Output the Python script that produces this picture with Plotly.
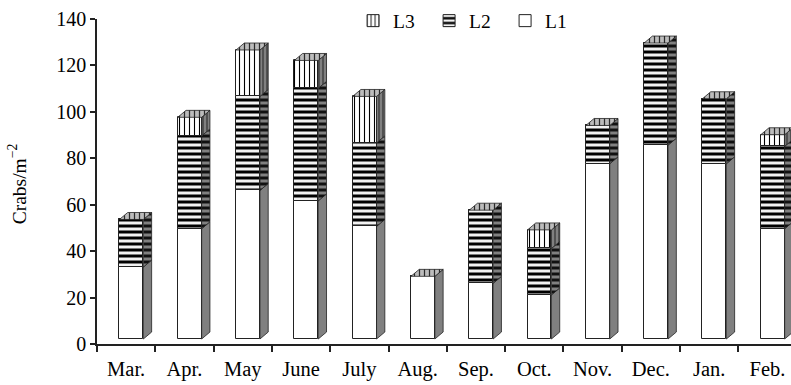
import plotly.graph_objects as go

# Monthly crab density (crabs per square metre) by size class, stacked
months = ["Mar.", "Apr.", "May", "June", "July", "Aug.",
          "Sep.", "Oct.", "Nov.", "Dec.", "Jan.", "Feb."]
L1 = [31.0, 47.5, 64.0, 59.5, 48.5, 27.0, 24.0, 19.0, 75.5, 83.5, 75.5, 47.5]
L2 = [20.5, 40.0, 40.5, 48.5, 36.0, 0.0, 31.5, 20.0, 16.5, 44.0, 28.0, 35.5]
L3 = [0.0, 8.0, 20.0, 12.0, 20.0, 0.0, 0.0, 8.0, 0.0, 0.0, 0.0, 5.0]
y_ticks = [0, 20, 40, 60, 80, 100, 120, 140]

FONT = "Liberation Serif"
x = list(range(len(months)))

# pseudo-3D box geometry (category units / value units)
W, OFF = 0.41, -0.115     # front face width and left-edge offset
DX, DY = 0.142, 3.0       # depth offset of the back edges
LIFT = 2.15               # boxes stand slightly behind the front plane

EDGE = "#222222"
SIDE = "#808080"
TOP = "#bcbcbc"

# cumulative boundaries of each stacked segment (raised by the floor lift)
b0 = [LIFT for _ in x]
b1 = [LIFT + a for a in L1]
b2 = [LIFT + a + b for a, b in zip(L1, L2)]
b3 = [c + d for c, d in zip(b2, L3)]

fig = go.Figure()

stack_specs = [
    ("L1", L1, b0, dict(shape="", bgcolor="white")),
    ("L2", L2, b1, dict(shape="-", fgcolor="black", bgcolor="#f2f2f2", size=6,
                        solidity=0.5, fgopacity=1)),
    ("L3", L3, b2, dict(shape="|", fgcolor="black", bgcolor="white", size=5,
                        solidity=0.22, fgopacity=1)),
]
for name, vals, base, pat in stack_specs:
    fig.add_trace(go.Bar(
        x=x, y=vals, base=base, name=name, width=W, offset=OFF,
        marker=dict(color="white", pattern=pat, line=dict(color=EDGE, width=1)),
        showlegend=True,
    ))


def side_faces(lo, hi):
    xs, ys = [], []
    for i in x:
        if hi[i] - lo[i] <= 0:
            continue
        xr = x[i] + OFF + W
        xs += [xr, xr + DX, xr + DX, xr, xr, None]
        ys += [lo[i], lo[i] + DY, hi[i] + DY, hi[i], lo[i], None]
    return xs, ys


def top_faces(tops):
    xs, ys = [], []
    for i in x:
        xl = x[i] + OFF
        xr = xl + W
        t = tops[i]
        xs += [xl, xl + DX, xr + DX, xr, xl, None]
        ys += [t, t + DY, t + DY, t, t, None]
    return xs, ys


face_specs = [
    (side_faces(b0, b1), dict(shape="", bgcolor=SIDE)),
    (side_faces(b1, b2), dict(shape="-", fgcolor="#111111", bgcolor=SIDE, size=6,
                              solidity=0.5, fgopacity=1)),
    (side_faces(b2, b3), dict(shape="|", fgcolor="#222222", bgcolor=SIDE, size=4,
                              solidity=0.25, fgopacity=1)),
    (top_faces(b3), dict(shape="|", fgcolor="#2a2a2a", bgcolor=TOP, size=5,
                         solidity=0.25, fgopacity=1)),
]
for (xs, ys), pat in face_specs:
    fig.add_trace(go.Scatter(
        x=xs, y=ys, mode="lines", fill="toself", fillcolor=pat["bgcolor"],
        fillpattern=pat if pat["shape"] else None,
        line=dict(color=EDGE, width=0.8),
        showlegend=False, hoverinfo="skip",
    ))

X_RANGE = [-0.5, -0.5 + 694 / 58.3]

fig.update_layout(
    width=791, height=385,
    margin=dict(l=97, r=0, t=19, b=41),
    paper_bgcolor="white", plot_bgcolor="white",
    barmode="overlay", bargap=0,
    font=dict(family=FONT, size=20, color="black"),
    xaxis=dict(
        range=X_RANGE, tickmode="array", tickvals=x, ticktext=months,
        ticks="", showgrid=False, zeroline=False, ticklabelstandoff=6,
        showline=True, linecolor="#222222", linewidth=1.5,
        minor=dict(tickmode="array", tickvals=[i - 0.5 for i in x] + [len(x) - 0.5],
                   ticks="outside", ticklen=6, tickwidth=1.5, tickcolor="#222222"),
        tickfont=dict(family=FONT, size=20.5),
    ),
    yaxis=dict(
        range=[0, 140], tickmode="array", tickvals=y_ticks,
        ticks="outside", ticklen=5, tickwidth=1.5, tickcolor="#222222",
        showgrid=False, zeroline=False,
        showline=True, linecolor="#222222", linewidth=1.5,
        tickfont=dict(family=FONT, size=20),
    ),
    legend=dict(
        orientation="h", traceorder="reversed",
        x=0.369, xanchor="left", y=0.994, yanchor="middle",
        font=dict(family=FONT, size=19.5), bgcolor="rgba(0,0,0,0)",
        entrywidth=31, entrywidthmode="pixels",
    ),
    annotations=[dict(
        text="Crabs/m<sup>−2</sup>", textangle=-90,
        xref="paper", yref="paper", x=-0.114, y=0.494,
        xanchor="center", yanchor="middle", showarrow=False,
        font=dict(family=FONT, size=19.5),
    )],
)

fig.write_html("out.html")
